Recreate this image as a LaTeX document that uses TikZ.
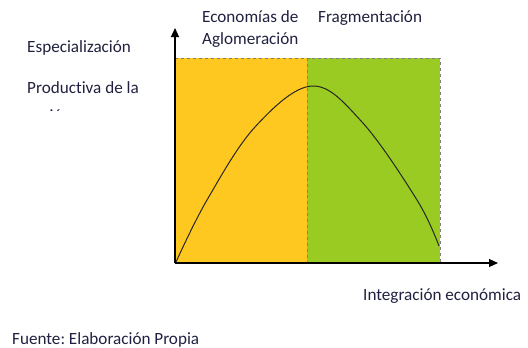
\documentclass[tikz,border=0pt]{standalone}
\usepackage{fontspec}
\setmainfont[Ligatures=NoCommon]{Carlito}
\usetikzlibrary{arrows.meta}
\definecolor{gold}{HTML}{FFC820}
\definecolor{lime}{HTML}{99CB22}
\definecolor{txt}{HTML}{202040}
\frenchspacing
\begin{document}
\begin{tikzpicture}[x=1bp,y=-1bp,
  lbl/.style={anchor=base west, inner sep=0pt, font=\fontsize{17.2}{20}\selectfont, text=txt},
  axis/.style={line width=1.1pt, -{Triangle[length=9bp,width=8bp]}},
  guide/.style={gray, dashed, line width=0.5pt},
  curve/.style={line width=1pt, black!85}]
\useasboundingbox (0,0) rectangle (528,347);
\fill[gold] (175,58) rectangle (307,263);
\fill[lime] (307,58) rectangle (440,263);
\draw[guide] (175,58) -- (440,58) -- (440,263);
\draw[guide] (307,58) -- (307,263);
\draw[curve] plot[smooth, tension=0.6] coordinates {(176,262) (207,200) (255,127) (312,86) (362,122) (417,200) (439,246)};
\coordinate (o) at (175,263);
\coordinate (ytip) at (175,28);
\coordinate (xtip) at (498,263);
\draw[axis] (o) -- (ytip);
\draw[axis] (o) -- (xtip);
\node[lbl] (e1) at (27,52) {Especialización};
\node[lbl] (e2) at (27,93) {Productiva de la};
\begin{scope}
\clip (0,95) rectangle (200,110);
\node[lbl] (e3) at (27,121) {región};
\end{scope}
\node[lbl] (a1) at (202,22) {Economías de};
\node[lbl] (a2) at (202,44) {Aglomeración};
\node[lbl] (f) at (318,22) {Fragmentación};
\node[lbl] (ie) at (363,300) {Integración económica};
\node[lbl] (src) at (12,344) {Fuente: Elaboración Propia};
\end{tikzpicture}
\end{document}
